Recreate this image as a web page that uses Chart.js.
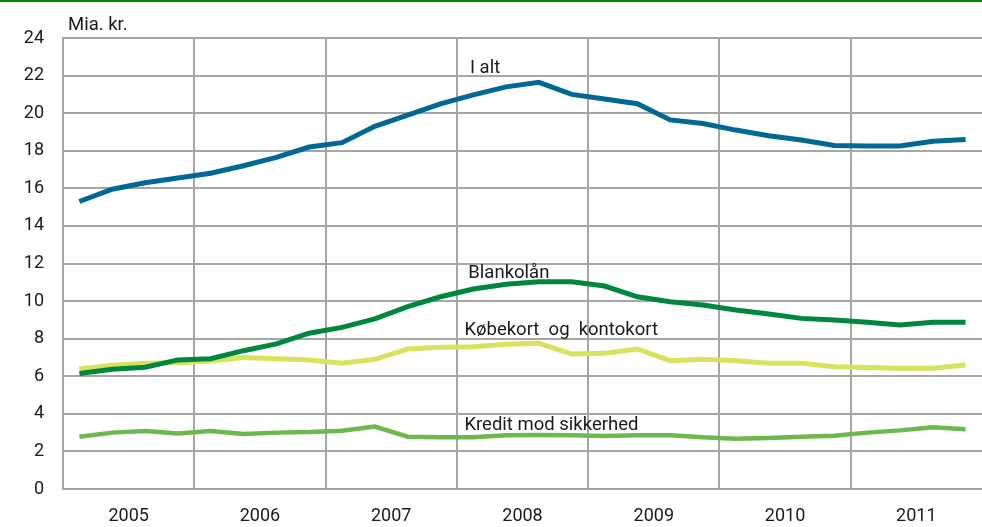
<!DOCTYPE html>
<html>
<head>
<meta charset="utf-8">
<script src="https://cdn.jsdelivr.net/npm/chart.js@4"></script>
<style>
  html, body { margin: 0; padding: 0; background: #fff; }
  #wrap { width: 982px; height: 527px; position: relative; }
</style>
</head>
<body>
<div id="wrap"><canvas id="chart" width="982" height="527"></canvas></div>
<script>
// quarterly data 2005K1 - 2011K4, mia. kr.
const years = ['2005', '2006', '2007', '2008', '2009', '2010', '2011'];
const quarters = years.flatMap(y => ['K1', 'K2', 'K3', 'K4'].map(q => y + q));

const iAlt = [15.3, 15.95, 16.3, 16.55, 16.8, 17.2, 17.65, 18.2, 18.43, 19.3, 19.9, 20.5,
  20.97, 21.4, 21.64, 21.0, 20.75, 20.5, 19.64, 19.45, 19.1, 18.8, 18.57, 18.28,
  18.25, 18.25, 18.5, 18.6];
const blankolaan = [6.15, 6.37, 6.48, 6.87, 6.93, 7.36, 7.72, 8.29, 8.6, 9.05, 9.7, 10.23,
  10.64, 10.89, 11.03, 11.03, 10.8, 10.23, 9.97, 9.79, 9.53, 9.31, 9.08, 8.99,
  8.87, 8.73, 8.87, 8.87];
const koebekort = [6.39, 6.58, 6.69, 6.72, 6.81, 7.0, 6.93, 6.87, 6.69, 6.9, 7.45, 7.54,
  7.57, 7.7, 7.75, 7.18, 7.22, 7.45, 6.83, 6.9, 6.83, 6.69, 6.69, 6.51,
  6.46, 6.42, 6.42, 6.6];
const kredit = [2.78, 3.0, 3.09, 2.96, 3.09, 2.93, 3.0, 3.03, 3.1, 3.32, 2.78, 2.75,
  2.75, 2.86, 2.87, 2.86, 2.82, 2.86, 2.86, 2.75, 2.68, 2.71, 2.78, 2.84,
  3.0, 3.12, 3.28, 3.18];

const yTicks = [0, 2, 4, 6, 8, 10, 12, 14, 16, 18, 20, 22, 24];

const GRID = '#a6a6a6';
const FONT = 'Roboto, "Noto Sans", sans-serif';

function pts(arr) {
  return arr.map((v, i) => ({ x: i + 0.5, y: v }));
}

// series labels, anchored in data units (quarter index, value)
const seriesLabels = [
  { text: 'I alt', x: 12.4, y: 22.16 },
  { text: 'Blankolån', x: 12.35, y: 11.21 },
  { text: 'Købekort  og  kontokort', x: 12.23, y: 8.2 },
  { text: 'Kredit mod sikkerhed', x: 12.23, y: 3.14 }
];

const decor = {
  id: 'decor',
  beforeDraw(chart) {
    const c = chart.ctx;
    c.save();
    c.fillStyle = '#fff';
    c.fillRect(0, 0, chart.width, chart.height);
    c.fillStyle = '#008a00';
    c.fillRect(0, 0, chart.width, 2);
    c.restore();
  },
  afterDraw(chart) {
    const c = chart.ctx;
    const xs = chart.scales.x, ys = chart.scales.y;
    c.save();
    c.fillStyle = '#1a1a1a';
    c.textBaseline = 'alphabetic';
    c.textAlign = 'left';
    c.font = '18.5px ' + FONT;
    c.fillText('Mia. kr.', chart.chartArea.left + 5, 30);
    seriesLabels.forEach(l => {
      c.fillText(l.text, xs.getPixelForValue(l.x), ys.getPixelForValue(l.y));
    });
    c.restore();
  }
};

new Chart(document.getElementById('chart'), {
  type: 'line',
  data: {
    datasets: [
      { label: 'I alt', data: pts(iAlt), borderColor: '#006894', borderWidth: 5 },
      { label: 'Blankolån', data: pts(blankolaan), borderColor: '#00873e', borderWidth: 5 },
      { label: 'Købekort og kontokort', data: pts(koebekort), borderColor: '#d8e25c', borderWidth: 5 },
      { label: 'Kredit mod sikkerhed', data: pts(kredit), borderColor: '#6bb84c', borderWidth: 4.5 }
    ]
  },
  options: {
    responsive: false,
    animation: false,
    elements: { point: { radius: 0 }, line: { tension: 0, borderJoinStyle: 'miter' } },
    layout: { padding: { top: 38, right: -3, left: 0, bottom: 0 } },
    plugins: { legend: { display: false }, tooltip: { enabled: false } },
    scales: {
      x: {
        type: 'linear',
        min: 0,
        max: quarters.length,
        afterFit: s => { s.height = 38; s.paddingLeft = 0; s.paddingRight = 0; },
        afterBuildTicks: s => { s.ticks = []; for (let v = 0; v <= quarters.length; v += 2) s.ticks.push({ value: v }); },
        ticks: {
          autoSkip: false,
          maxRotation: 0,
          padding: 17,
          color: '#1a1a1a',
          font: { family: FONT, size: 18 },
          callback: v => (v % 4 === 2 ? years[(v - 2) / 4] : '')
        },
        grid: {
          drawTicks: false,
          lineWidth: 2,
          color: ctx => (ctx.tick && ctx.tick.value % 4 === 0 && ctx.tick.value < quarters.length ? GRID : 'rgba(0,0,0,0)')
        },
        border: { display: true, color: GRID, width: 2 }
      },
      y: {
        min: 0,
        max: 24,
        afterFit: s => { s.width = 63; },
        afterBuildTicks: s => { s.ticks = yTicks.map(v => ({ value: v })); },
        ticks: {
          padding: 19,
          color: '#1a1a1a',
          font: { family: FONT, size: 18 }
        },
        grid: { drawTicks: false, lineWidth: 2, color: GRID },
        border: { display: true, color: GRID, width: 2 }
      }
    }
  },
  plugins: [decor]
});
</script>
</body>
</html>
